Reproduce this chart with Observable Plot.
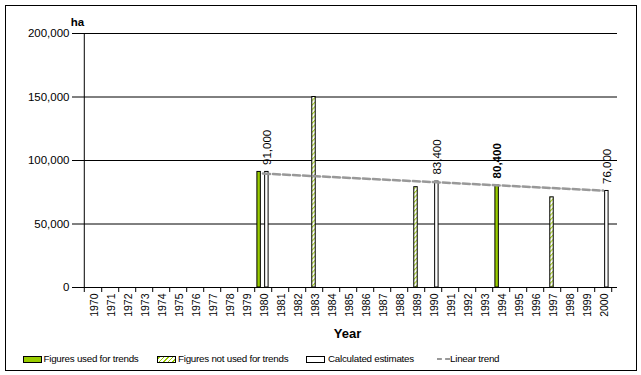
<!DOCTYPE html>
<html>
<head>
<meta charset="utf-8">
<script src="https://cdn.jsdelivr.net/npm/d3@7"></script>
<script src="https://cdn.jsdelivr.net/npm/@observablehq/plot@0.6"></script>
<style>
  body { margin: 0; background: #fff; }
  #wrap { position: relative; width: 641px; height: 375px; font-family: "Liberation Sans", Arial, sans-serif; color: #000; }
  #border { position: absolute; left: 5px; top: 5px; width: 632px; height: 366px; border: 1px solid #000; box-sizing: border-box; pointer-events: none; }
  #chart { position: absolute; left: 0; top: 0; }
  #legend { position: absolute; left: 0; top: 351px; width: 641px; height: 16px; font-size: 9.8px; letter-spacing: -0.25px; }
  .item { position: absolute; top: 0; white-space: nowrap; line-height: 16px; }
  .sw { position: absolute; top: 5px; width: 19px; height: 7px; box-sizing: border-box; border: 1px solid #000; }
  .dash { position: absolute; top: 7px; width: 13px; height: 0; border-top: 2px dashed #999; }
</style>
</head>
<body>
<div id="wrap">
  <div id="chart"></div>
  <div id="legend"></div>
  <div id="border"></div>
</div>
<script>
// ---- data ----
const years = [1970, 1971, 1972, 1973, 1974, 1975, 1976, 1977, 1978, 1979, 1980, 1981, 1982, 1983, 1984, 1985,
               1986, 1987, 1988, 1989, 1990, 1991, 1992, 1993, 1994, 1995, 1996, 1997, 1998, 1999, 2000];
const usedYears = [1980, 1994];
const usedValues = [91000, 80400];
const notUsedYears = [1983, 1989, 1997];
const notUsedValues = [150000, 79000, 71000];
const estimateYears = [1980, 1990, 2000];
const estimateValues = [91000, 83400, 76000];
const trendYears = [1980, 2000];
const trendValues = [89700, 76300];
const estimateLabelYears = [1980, 1990, 2000];
const usedLabelYears = [1994];
const yTicks = [0, 50000, 100000, 150000, 200000];
const legendLabels = ["Figures used for trends", "Figures not used for trends", "Calculated estimates", "Linear trend"];
const yUnit = "ha";
const xTitle = "Year";

// ---- layout ----
const W = 641, H = 340;
const mL = 77, mR = 24, mT = 33, mB = 53;
const bw = (W - mL - mR) / years.length;   // band width
const sw = bw / 4.5;                       // slot (bar) width, Excel gap 150%
const slotInsets = [
  [0.75 * sw, bw - 1.75 * sw],
  [1.75 * sw, 1.75 * sw],
  [2.75 * sw, 0.75 * sw]
];
const green = "#99CC00";

const used = usedYears.map((y, i) => ({year: y, value: usedValues[i]}));
const notUsed = notUsedYears.map((y, i) => ({year: y, value: notUsedValues[i]}));
const est = estimateYears.map((y, i) => ({year: y, value: estimateValues[i]}));
const trend = trendYears.map((y, i) => ({year: y, value: trendValues[i]}));
const estLabels = est.filter(d => estimateLabelYears.includes(d.year));
const usedLabels = used.filter(d => usedLabelYears.includes(d.year));
const fmt = d3.format(",");

const chart = Plot.plot({
  width: W, height: H,
  marginLeft: mL, marginRight: mR, marginTop: mT, marginBottom: mB,
  style: {fontFamily: "'Liberation Sans', Arial, sans-serif", fontSize: "11px", color: "#000", background: "transparent", overflow: "visible"},
  x: {type: "band", domain: years, paddingInner: 0, paddingOuter: 0, axis: null},
  y: {domain: [0, 200000], axis: null},
  marks: [
    Plot.gridY(yTicks.filter(d => d > 0), {stroke: "#000", strokeOpacity: 1}),
    Plot.barY(used, {x: "year", y: "value", fill: green, stroke: "#000", strokeWidth: 1, insetLeft: slotInsets[0][0], insetRight: slotInsets[0][1]}),
    Plot.barY(notUsed, {x: "year", y: "value", fill: "url(#hatch)", stroke: "#000", strokeWidth: 1, insetLeft: slotInsets[1][0], insetRight: slotInsets[1][1]}),
    Plot.barY(est, {x: "year", y: "value", fill: "#fff", stroke: "#000", strokeWidth: 1, insetLeft: slotInsets[2][0], insetRight: slotInsets[2][1]}),
    Plot.line(trend, {x: "year", y: "value", stroke: "#999999", strokeWidth: 2.5, strokeDasharray: "7,3"}),
    Plot.ruleY([0], {stroke: "#000"}),
    Plot.ruleX([years[0]], {dx: -bw / 2, y1: 0, y2: 200000, stroke: "#000"}),
    Plot.axisY({ticks: yTicks, tickFormat: fmt, tickSize: 5, tickPadding: 3, fontSize: 11.5, label: null}),
    Plot.axisX({tickSize: 5, tickFormat: () => "", dx: bw / 2, label: null}),
    Plot.axisX([years[0]], {tickSize: 5, tickFormat: () => "", dx: -bw / 2, label: null}),
    Plot.axisX({tickSize: 0, tickPadding: 6, tickRotate: -90, tickFormat: d => String(d), fontSize: 10.5, dx: 2, label: null}),
    Plot.text(estLabels, {x: "year", y: "value", text: d => fmt(d.value), rotate: -90, textAnchor: "start", lineAnchor: "middle", dx: sw, dy: -7, fontSize: 11.5}),
    Plot.text(usedLabels, {x: "year", y: "value", text: d => fmt(d.value), rotate: -90, textAnchor: "start", lineAnchor: "middle", dx: -sw, dy: -7, fontSize: 11.5, fontWeight: "bold"}),
    Plot.text([xTitle], {frameAnchor: "bottom", dy: 50, lineAnchor: "bottom", fontSize: 13, fontWeight: "bold"}),
    Plot.text([yUnit], {frameAnchor: "top-left", dy: -8, lineAnchor: "bottom", textAnchor: "middle", fontSize: 11.5, fontWeight: "bold"})
  ]
});

// hatch pattern
const defs = d3.select(chart).insert("defs", ":first-child");
const pat = defs.append("pattern").attr("id", "hatch").attr("patternUnits", "userSpaceOnUse")
  .attr("width", 3.2).attr("height", 3.2).attr("patternTransform", "rotate(45)");
pat.append("rect").attr("width", 3.2).attr("height", 3.2).attr("fill", "#fff");
pat.append("line").attr("x1", 0.6).attr("y1", 0).attr("x2", 0.6).attr("y2", 3.2).attr("stroke", green).attr("stroke-width", 1);

document.getElementById("chart").appendChild(chart);

// legend
const legend = document.getElementById("legend");
const legendPos = [[23, 43.5], [157, 178], [306, 328], [437, 450]];
const swatchStyles = [
  `background:${green};`,
  `background:repeating-linear-gradient(-45deg, #fff 0 1.2px, ${green} 1.2px 2.2px, #fff 2.2px 3.2px);`,
  `background:#fff;`,
  null
];
legendLabels.forEach((label, i) => {
  const [sx, tx] = legendPos[i];
  const s = document.createElement("div");
  if (swatchStyles[i] !== null) { s.className = "sw"; s.style.cssText = swatchStyles[i]; }
  else { s.className = "dash"; }
  s.style.left = sx + "px";
  legend.appendChild(s);
  const t = document.createElement("div");
  t.className = "item";
  t.style.left = tx + "px";
  t.textContent = label;
  legend.appendChild(t);
});
</script>
</body>
</html>
